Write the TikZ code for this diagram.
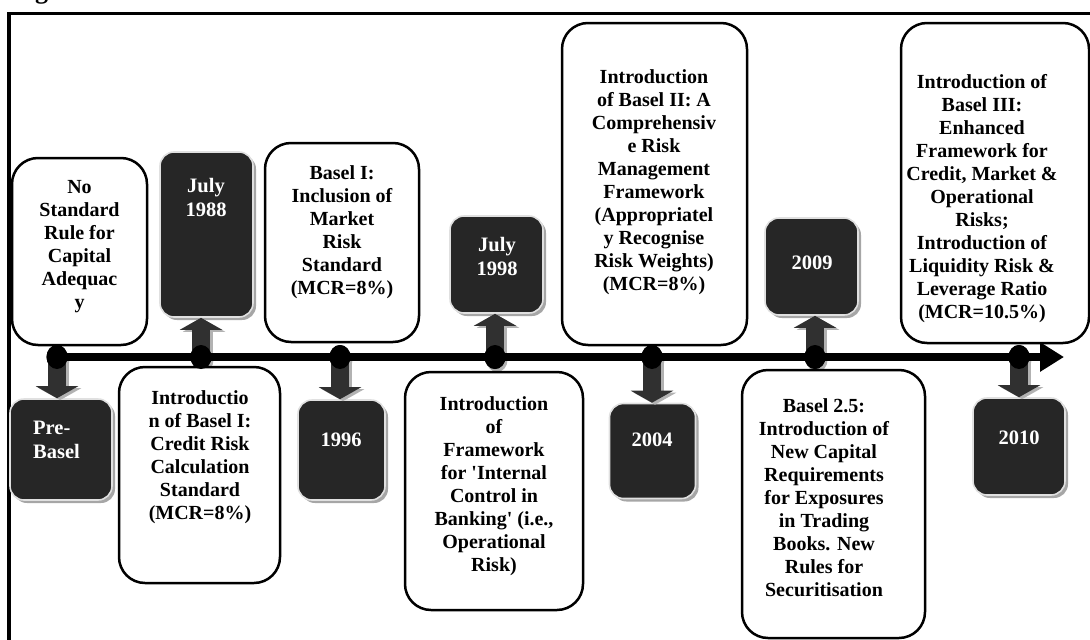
\documentclass[tikz,border=0pt]{standalone}
\usepackage{fontspec}
\setmainfont{Liberation Serif}
\usetikzlibrary{arrows.meta,shapes.geometric,shadows}
\definecolor{darkfill}{HTML}{262626}
\definecolor{arrowfill}{HTML}{303030}
\begin{document}
\begin{tikzpicture}[x=1pt,y=-1pt,
  wbox/.style={draw=black, line width=2.5pt, rounded corners=26pt, fill=white, inner sep=0pt},
  dbox/.style={draw=white!88!black, line width=1.6pt, fill=darkfill, rounded corners=14pt, inner sep=0pt,
    drop shadow={shadow xshift=3pt, shadow yshift=-3pt, fill=black!35, opacity=1}},
  wtxt/.style={align=center, inner sep=0pt, font=\bfseries\fontsize{20}{23}\selectfont},
  dtxt/.style={align=center, inner sep=0pt, text=white, font=\bfseries\fontsize{20.5}{24}\selectfont},
  dot/.style={ellipse, fill=black, minimum width=21pt, minimum height=24pt, inner sep=0pt,
    drop shadow={shadow xshift=2pt, shadow yshift=-3pt, fill=black!30, opacity=1}},
  barrow/.style={line width=18pt, draw=arrowfill, -{Triangle[width=42pt,length=12pt]}},
  barrowsh/.style={line width=18pt, draw=black!30, -{Triangle[width=42pt,length=12pt]},
    transform canvas={xshift=3pt,yshift=-2pt}},
  tline/.style={line width=8pt, draw=black, -{Triangle[width=28pt,length=24pt]}}
]
\useasboundingbox (0,0) rectangle (1090,640);
% frame and cut heading
\node[anchor=base west, inner sep=0pt, font=\bfseries\fontsize{26}{28}\selectfont] (fig) at (35,-1.5) {g};
\draw[line width=3.5pt] (9,700) -- (9,13.5) -- (1200,13.5);

% timeline dots
\node[dot] (c0) at (57,357) {};
\node[dot] (c1) at (201,357) {};
\node[dot] (c2) at (340,357) {};
\node[dot] (c3) at (495,357) {};
\node[dot] (c4) at (652,357) {};
\node[dot] (c5) at (815,357) {};
\node[dot] (c6) at (1019,357) {};
\coordinate (tlend) at (1064,357);

% dark year boxes
\node[dbox, minimum width=102pt, minimum height=101pt] (pb) at (61,449.5) {};
\node[dbox, minimum width=93pt, minimum height=165pt] (j88) at (206.5,234.5) {};
\node[dbox, minimum width=87pt, minimum height=100pt] (y96) at (341.5,450) {};
\node[dbox, minimum width=93pt, minimum height=97pt] (j98) at (496.5,264.5) {};
\node[dbox, minimum width=86pt, minimum height=95pt] (y04) at (652.5,451) {};
\node[dbox, minimum width=93pt, minimum height=97pt] (y09) at (811.5,266.5) {};
\node[dbox, minimum width=92pt, minimum height=97pt] (y10) at (1019,446.5) {};

% white description boxes
\node[wbox, minimum width=135pt, minimum height=187pt] (b1) at (79.5,251.5) {};
\node[wbox, minimum width=161pt, minimum height=216pt] (b2) at (199.5,475) {};
\node[wbox, minimum width=154pt, minimum height=199pt] (b3) at (342,242.5) {};
\node[wbox, minimum width=178pt, minimum height=238pt] (b4) at (494,491) {};
\node[wbox, minimum width=185pt, minimum height=322pt] (b5) at (654.5,184) {};
\node[wbox, minimum width=183pt, minimum height=268pt] (b6) at (833.5,504) {};
\node[wbox, minimum width=188pt, minimum height=320pt] (b7) at (995,183) {};

% block arrows (shadow, then arrow)
\draw[barrowsh] (c0.center) -- (c0.center |- pb.north);
\draw[barrowsh] (c1.center) -- (c1.center |- j88.south);
\draw[barrowsh] (c2.center) -- (c2.center |- y96.north);
\draw[barrowsh] (c3.center) -- (c3.center |- j98.south);
\draw[barrowsh] (c4.center) -- (c4.center |- y04.north);
\draw[barrowsh] (c5.center) -- (c5.center |- y09.south);
\draw[barrowsh] (c6.center) -- (c6.center |- y10.north);
\draw[barrow] (c0.center) -- (c0.center |- pb.north);
\draw[barrow] (c1.center) -- (c1.center |- j88.south);
\draw[barrow] (c2.center) -- (c2.center |- y96.north);
\draw[barrow] (c3.center) -- (c3.center |- j98.south);
\draw[barrow] (c4.center) -- (c4.center |- y04.north);
\draw[barrow] (c5.center) -- (c5.center |- y09.south);
\draw[barrow] (c6.center) -- (c6.center |- y10.north);

% timeline line
\draw[tline] (c0.center) -- (tlend);

% redraw dots on top
\foreach \c in {c0,c1,c2,c3,c4,c5,c6} {
  \fill[black] (\c.center) ellipse (10.5pt and 12pt);
}

% texts in dark boxes
\node[dtxt, align=left, anchor=west] (tpb) at (33,439.5) {Pre-\\Basel};
\node[dtxt] (tj88) at (206,197) {July\\1988};
\node[dtxt] (ty96) at (341,440) {1996};
\node[dtxt] (tj98) at (497,256.5) {July\\1998};
\node[dtxt] (ty04) at (652,440) {2004};
\node[dtxt] (ty09) at (812,263) {2009};
\node[dtxt] (ty10) at (1019,438) {2010};

% texts in white boxes
\node[wtxt] (tb1) at (79.5,246.5) {No\\Standard\\Rule for\\Capital\\Adequac\\y};
\node[wtxt] (tb2) at (200,457.5) {Introductio\\n of Basel I:\\Credit Risk\\Calculation\\Standard\\(MCR=8\%)};
\node[wtxt] (tb3) at (342,232.5) {Basel I:\\Inclusion of\\Market\\Risk\\Standard\\(MCR=8\%)};
\node[wtxt] (tb4) at (494,486) {Introduction\\of\\Framework\\for \textquotesingle Internal\\Control in\\Banking\textquotesingle{} (i.e.,\\Operational\\Risk)};
\node[wtxt] (tb5) at (654,182.5) {Introduction\\of Basel II: A\\Comprehensiv\\e Risk\\Management\\Framework\\(Appropriatel\\y Recognise\\Risk Weights)\\(MCR=8\%)};
\node[wtxt] (tb6) at (824,497.5) {Basel 2.5:\\Introduction of\\New Capital\\Requirements\\for Exposures\\in Trading\\Books. New\\Rules for\\Securitisation};
\node[wtxt] (tb7) at (982,199) {Introduction of\\Basel III:\\Enhanced\\Framework for\\Credit, Market \&\\Operational\\Risks;\\Introduction of\\Liquidity Risk \&\\Leverage Ratio\\(MCR=10.5\%)};
\end{tikzpicture}
\end{document}
